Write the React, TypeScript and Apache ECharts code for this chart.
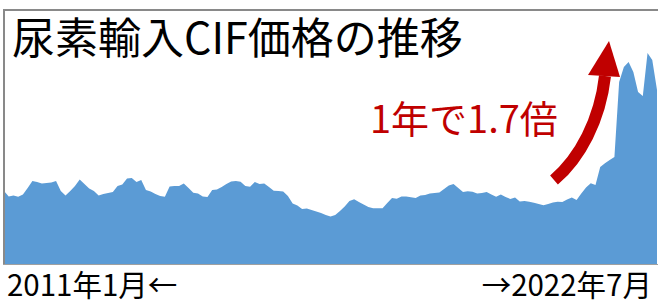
import React, { useEffect, useRef } from "react";
import * as echarts from "echarts";

const TITLE = "尿素輸入CIF価格の推移";
const NOTE = "1年で1.7倍";
const START_LABEL = "2011年1月←";
const END_LABEL = "→2022年7月";

// Monthly categories, 2011/1 .. 2022/7
const months: string[] = [];
for (let y = 2011; y <= 2022; y++) {
  for (let m = 1; m <= 12; m++) {
    if (y === 2022 && m > 7) break;
    months.push(`${y}/${m}`);
  }
}

// Price index (relative units)
const prices: number[] = [
  73, 67.5, 68.5, 67.3, 69.5, 76, 83, 82, 80.5, 81,
  81.5, 83, 73, 68.5, 73, 78, 84.5, 80, 75.5, 73,
  68.5, 70, 71, 72, 78, 79.5, 85.5, 86, 82, 84,
  74, 72.5, 70, 68, 67.3, 77.5, 78, 78, 80.5, 76,
  71.3, 70.5, 67.5, 67, 74, 74.5, 77, 80, 82.5, 83,
  82.2, 78, 77.3, 82, 80, 80.5, 77, 73.3, 73, 72.5,
  68, 60.5, 58.5, 55, 55.5, 54, 52.5, 51, 49, 47.5,
  49, 53, 57.5, 63, 64.8, 62, 59.5, 57, 55.7, 55.7,
  55.7, 61, 66, 65.2, 67.5, 67.5, 66.7, 66, 68.5, 69,
  70.4, 71, 71.5, 75, 78.5, 80, 76, 72, 72.8, 72.3,
  70.5, 71, 72, 69.5, 67.3, 69.5, 67, 65, 66.5, 62.5,
  63, 62.3, 61.3, 60, 58.8, 60, 61.5, 62.2, 62, 64.5,
  66.5, 64, 70.5, 76.5, 80.7, 79, 97, 100.7, 104, 107,
  182, 197, 202, 192, 172, 168, 211, 204, 174,
];

const FONT = '"Noto Sans CJK JP", "Noto Sans", sans-serif';

export default function App() {
  const ref = useRef<HTMLDivElement>(null);
  useEffect(() => {
    if (!ref.current) return;
    const chart = echarts.init(ref.current, undefined, { renderer: "svg" });
    chart.setOption({
      animation: false,
      backgroundColor: "#ffffff",
      grid: { left: 4, right: 1, top: 10, bottom: 41, containLabel: false },
      xAxis: {
        type: "category",
        data: months,
        boundaryGap: false,
        show: false,
      },
      yAxis: { type: "value", min: 0, max: 254, show: false },
      series: [
        {
          type: "line",
          data: prices,
          symbol: "none",
          lineStyle: { width: 0, color: "#5B9BD5" },
          areaStyle: { color: "#5B9BD5", opacity: 1 },
          silent: true,
        },
      ],
      graphic: [
        { type: "line", z: 50, shape: { x1: 3, y1: 10, x2: 658, y2: 10 }, style: { stroke: "#898989", lineWidth: 2 } },
        { type: "line", z: 50, shape: { x1: 4, y1: 9, x2: 4, y2: 265 }, style: { stroke: "#898989", lineWidth: 2 } },
        { type: "line", z: 50, shape: { x1: 3, y1: 264.5, x2: 658, y2: 264.5 }, style: { stroke: "#a0a0a0", lineWidth: 1.2 } },
        {
          type: "text", z: 60, x: 12, y: 35,
          style: { text: TITLE, fontSize: 43, fontFamily: FONT, fill: "#000000", align: "left", verticalAlign: "middle" },
        },
        {
          type: "text", z: 60, x: 370, y: 116,
          style: { text: NOTE, fontSize: 38, fontFamily: FONT, fill: "#C00000", align: "left", verticalAlign: "middle" },
        },
        {
          type: "text", z: 60, x: 7, y: 283,
          style: { text: START_LABEL, fontSize: 29.5, lineHeight: 29, fontFamily: FONT, fill: "#000000", align: "left", verticalAlign: "middle" },
        },
        {
          type: "text", z: 60, x: 652, y: 283,
          style: { text: END_LABEL, fontSize: 29.5, lineHeight: 29, fontFamily: FONT, fill: "#000000", align: "right", verticalAlign: "middle" },
        },
        {
          type: "bezierCurve", z: 70,
          shape: { x1: 554, y1: 180, cpx1: 580, cpy1: 158, cpx2: 600, cpy2: 120, x2: 605, y2: 76 },
          style: { stroke: "#C00000", lineWidth: 12, fill: null, lineCap: "butt" },
        },
        {
          type: "polygon", z: 71,
          shape: { points: [[609, 41], [620, 77], [588, 75]] },
          style: { fill: "#C00000" },
        },
      ],
    });
    return () => chart.dispose();
  }, []);
  return (
    <div
      ref={ref}
      style={{ position: "fixed", left: 0, top: 0, width: 658, height: 305 }}
    />
  );
}
